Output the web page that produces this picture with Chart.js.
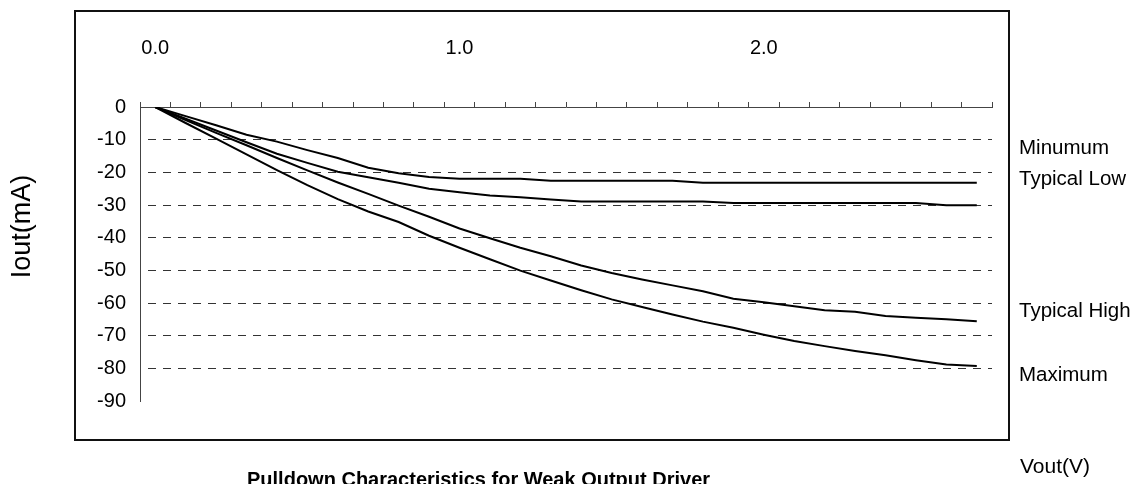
<!DOCTYPE html>
<html>
<head>
<meta charset="utf-8">
<title>Pulldown Characteristics for Weak Output Driver</title>
<script src="https://cdn.jsdelivr.net/npm/chart.js@4/dist/chart.umd.min.js"></script>
<style>
    html, body { margin: 0; padding: 0; background: #fff; }
    #chart-wrap { width: 1135px; height: 484px; }
</style>
</head>
<body>
<div id="chart-wrap"><canvas id="pulldown-chart"></canvas></div>
<script>
// Vout (V) categories, one every 0.1 V
const vout_labels = [
    "0.0", "0.1", "0.2", "0.3", "0.4", "0.5", "0.6", "0.7", "0.8", "0.9",
    "1.0", "1.1", "1.2", "1.3", "1.4", "1.5", "1.6", "1.7", "1.8", "1.9",
    "2.0", "2.1", "2.2", "2.3", "2.4", "2.5", "2.6", "2.7"
];

// Iout (mA)
const minimum_ma = [
    0, -2.8, -5.6, -8.5, -10.6, -13.2, -15.6, -18.6, -20.3, -21.4,
    -22.0, -22.0, -22.0, -22.6, -22.6, -22.6, -22.6, -22.6, -23.2, -23.2,
    -23.2, -23.2, -23.2, -23.2, -23.2, -23.2, -23.2, -23.2
];
const typical_low_ma = [
    0, -3.6, -7.2, -10.8, -14.3, -17.1, -19.8, -21.5, -23.2, -25.0,
    -26.1, -27.1, -27.6, -28.3, -28.9, -28.9, -28.9, -28.9, -28.9, -29.4,
    -29.4, -29.4, -29.4, -29.4, -29.4, -29.4, -30.1, -30.1
];
const typical_high_ma = [
    0, -4.0, -7.9, -11.7, -15.6, -19.4, -23.1, -26.6, -30.2, -33.6,
    -37.2, -40.2, -43.1, -45.7, -48.5, -50.8, -52.8, -54.6, -56.4, -58.7,
    -59.8, -61.0, -62.2, -62.7, -64.0, -64.5, -65.0, -65.6
];
const maximum_ma = [
    0, -4.9, -9.7, -14.5, -19.3, -23.9, -28.2, -32.0, -35.2, -39.4,
    -43.1, -46.6, -50.1, -53.1, -56.1, -58.9, -61.2, -63.5, -65.7, -67.6,
    -69.7, -71.6, -73.2, -74.7, -76.0, -77.5, -78.8, -79.3
];

const series_names = ["Minumum", "Typical Low", "Typical High", "Maximum"];
// where each name sits on the Iout axis (text baseline)
const series_name_at = [-14.4, -23.9, -64.3, -83.9];

const FONT = "'Liberation Sans', Arial, sans-serif";

/**
 * Draws the frame, axis titles, chart title and curve names.
 */
const decorations = {
    id: "decorations",
    afterDraw(chart) {
        const {ctx, chartArea, scales} = chart;
        const {left, right, top, bottom} = chartArea;
        ctx.save();

        ctx.strokeStyle = "#111";
        ctx.lineWidth = 2;
        ctx.strokeRect(left - 65, top - 96, right - left + 82, bottom - top + 135);

        ctx.fillStyle = "#000";
        ctx.textAlign = "left";
        ctx.textBaseline = "alphabetic";
        ctx.font = `20.5px ${FONT}`;
        series_names.forEach((name, i) => {
            ctx.fillText(name, right + 27, scales.y.getPixelForValue(series_name_at[i]));
        });

        ctx.font = `21px ${FONT}`;
        ctx.fillText("Vout(V)", right + 28, bottom + 72);

        ctx.font = `bold 20px ${FONT}`;
        ctx.fillText("Pulldown Characteristics for Weak Output Driver", left + 107, bottom + 85);

        ctx.save();
        ctx.translate(left - 117.5, top + 119.5);
        ctx.rotate(-Math.PI / 2);
        ctx.textAlign = "center";
        ctx.textBaseline = "middle";
        ctx.font = `27px ${FONT}`;
        ctx.fillText("Iout(mA)", 0, 0);
        ctx.restore();

        ctx.restore();
    }
};

function make_dataset(name, values) {
    return {
        label: name,
        data: values,
        borderColor: "#000",
        borderWidth: 2,
        pointRadius: 0,
        tension: 0,
        fill: false
    };
}

const chart_el = document.getElementById("pulldown-chart");

new Chart(chart_el, {
    type: "line",
    data: {
        labels: vout_labels,
        datasets: [
            make_dataset(series_names[0], minimum_ma),
            make_dataset(series_names[1], typical_low_ma),
            make_dataset(series_names[2], typical_high_ma),
            make_dataset(series_names[3], maximum_ma)
        ]
    },
    options: {
        responsive: true,
        maintainAspectRatio: false,
        animation: false,
        devicePixelRatio: 1,
        layout: {
            padding: {left: 0, top: 0, right: 143, bottom: 83}
        },
        plugins: {
            legend: {display: false},
            tooltip: {enabled: false},
            title: {display: false}
        },
        scales: {
            x: {
                position: "top",
                offset: true,
                grid: {
                    offset: true,
                    drawOnChartArea: false,
                    drawTicks: true,
                    tickLength: 5,
                    tickColor: "#444",
                    tickWidth: 1
                },
                border: {display: true, color: "#444", width: 1},
                ticks: {
                    autoSkip: false,
                    maxRotation: 0,
                    padding: 42,
                    color: "#000",
                    font: {family: FONT, size: 20},
                    callback: (value, index) => (index % 10 === 0 ? vout_labels[index] : "")
                },
                afterFit: (scale) => { scale.height = 107; }
            },
            y: {
                min: -90,
                max: 0,
                ticks: {
                    stepSize: 10,
                    padding: 14,
                    color: "#000",
                    font: {family: FONT, size: 20}
                },
                grid: {
                    drawTicks: false,
                    lineWidth: 1,
                    color: (ctx) => {
                        const v = ctx.tick ? ctx.tick.value : 0;
                        return (v === 0 || v === -90) ? "rgba(0,0,0,0)" : "#333";
                    }
                },
                border: {display: true, color: "#444", width: 1, dash: [8, 7], dashOffset: 8},
                afterFit: (scale) => { scale.width = 140; }
            }
        }
    },
    plugins: [decorations]
});
</script>
</body>
</html>
